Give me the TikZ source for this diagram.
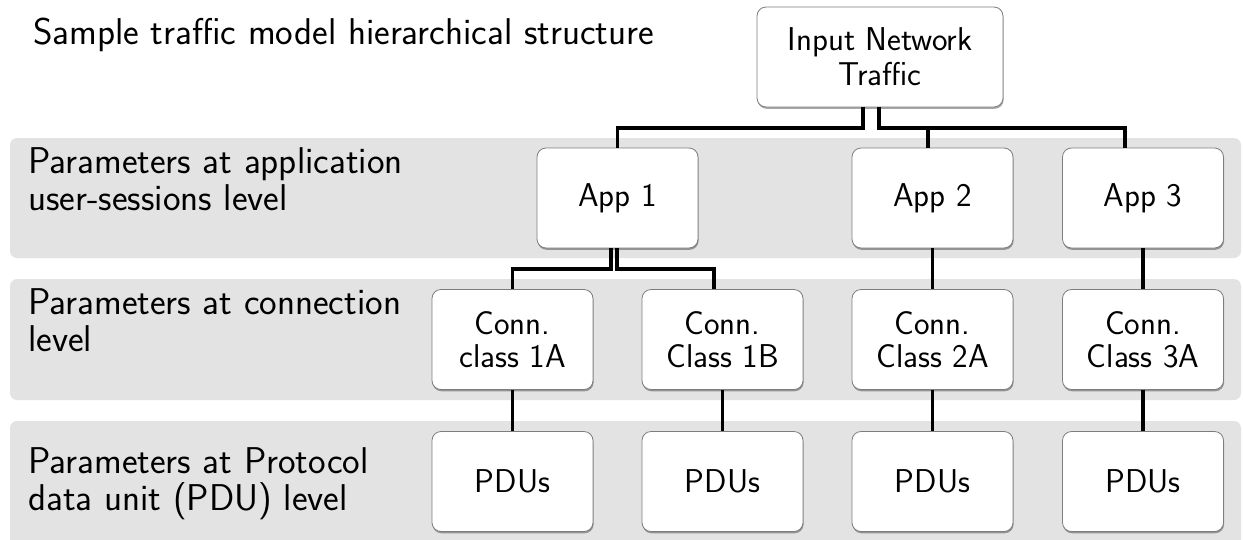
\documentclass[tikz,border=0pt]{standalone}
\usepackage{fontspec}
\usetikzlibrary{shadows}
\definecolor{bandgray}{RGB}{227,227,227}
\definecolor{boxedge}{RGB}{125,125,125}

\begin{document}
\begin{tikzpicture}[x=1pt,y=-1pt,
  band/.style={fill=bandgray, rounded corners=7pt},
  unit/.style={draw=boxedge, line width=0.8pt, fill=white, rounded corners=9pt,
    minimum width=161pt, minimum height=100pt, inner sep=2pt, align=center,
    font=\sffamily\fontsize{33}{33}\selectfont,
    drop shadow={shadow xshift=0.6pt, shadow yshift=-1.8pt, opacity=0.35, fill=black}},
  label/.style={anchor=base west, inner sep=0pt, font=\sffamily\fontsize{37.3}{37}\selectfont},
  link/.style={line width=3.2pt, black}]

\useasboundingbox (0,0) rectangle (1243,539);

% level bands
\fill[band] (10,138) rectangle (1241,258);
\fill[band] (10,279) rectangle (1241,400);
\fill[band] (10,421) rectangle (1241,560);

% title and level labels
\node[label] (title) at (33,44) {Sample traffic model hierarchical structure};
\node[label] (lab1) at (28,173) {\begin{tabular}[t]{@{}l@{}}Parameters at application\\user-sessions level\end{tabular}};
\node[label] (lab2) at (28,314) {\begin{tabular}[t]{@{}l@{}}Parameters at connection\\level\end{tabular}};
\node[label] (lab3) at (28,473) {\begin{tabular}[t]{@{}l@{}}Parameters at Protocol\\[-2pt]data unit (PDU) level\end{tabular}};

% bus heights
\coordinate (busA) at (0,128);
\coordinate (busB) at (0,269);

% tree nodes
\node[unit, minimum width=246pt] (inp) at (880,57) {Input Network\\[2pt]Traffic};
\node[unit] (app1) at (617.5,198) {App 1};
\node[unit] (app2) at (932.5,198) {App 2};
\node[unit] (app3) at (1143,198) {App 3};
\node[unit] (c1a) at (512.5,339.5) {Conn.\\class 1A};
\node[unit] (c1b) at (722.5,339.5) {Conn.\\Class 1B};
\node[unit] (c2a) at (932.5,339.5) {Conn.\\Class 2A};
\node[unit] (c3a) at (1143,339.5) {Conn.\\Class 3A};
\node[unit] (p1a) at (512.5,481.5) {PDUs};
\node[unit] (p1b) at (722.5,481.5) {PDUs};
\node[unit] (p2a) at (932.5,481.5) {PDUs};
\node[unit] (p3a) at (1143,481.5) {PDUs};

% connector end points
\coordinate (iL) at ([xshift=-17pt]inp.south);
\coordinate (iR) at ([xshift=-1pt]inp.south);
\coordinate (a2in) at ([xshift=-4.5pt]app2.north);
\coordinate (a3in) at ([xshift=-18pt]app3.north);
\coordinate (a1L) at ([xshift=-6.5pt]app1.south);
\coordinate (a1R) at ([xshift=-0.5pt]app1.south);
\coordinate (c1bin) at ([xshift=-8.5pt]c1b.north);

% connectors
\draw[link] (iL) -- (iL |- busA) -| (app1.north);
\draw[link] (iR) -- (iR |- busA) -| (a3in);
\draw[link] (a2in |- busA) -- (a2in);
\draw[link] (a1L) -- (a1L |- busB) -| (c1a.north);
\draw[link] (a1R) -- (a1R |- busB) -| (c1bin);
\draw[link] (app2.south) -- (c2a.north);
\draw[link] (app3.south) -- (c3a.north);
\draw[link] (c1a.south) -- (p1a.north);
\draw[link] (c1b.south) -- (p1b.north);
\draw[link] (c2a.south) -- (p2a.north);
\draw[link] (c3a.south) -- (p3a.north);
\end{tikzpicture}
\end{document}
